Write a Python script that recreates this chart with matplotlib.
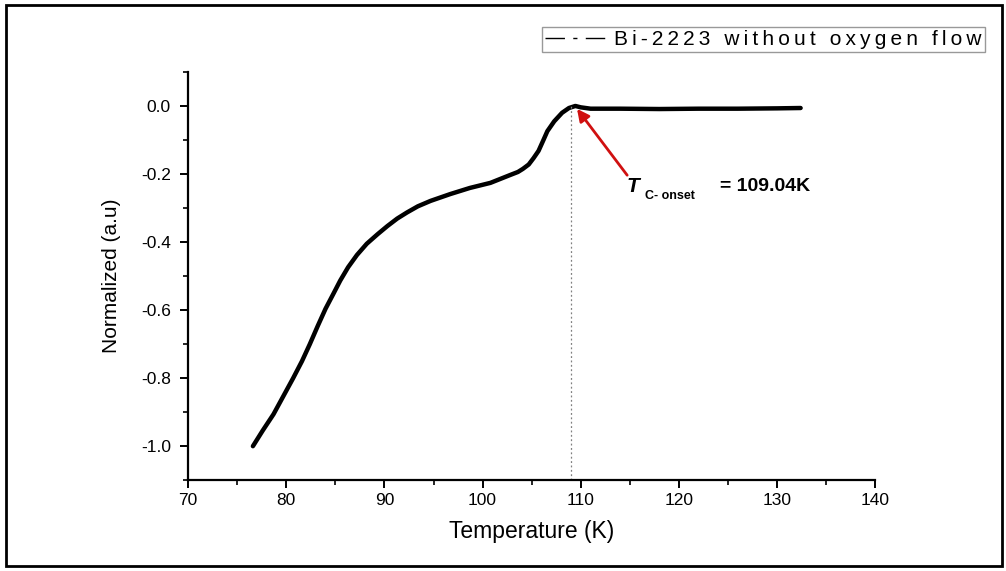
import matplotlib.pyplot as plt
from matplotlib.ticker import MultipleLocator
from matplotlib.lines import Line2D
from matplotlib.patches import Rectangle

plt.rcParams['font.family'] = ['Liberation Sans', 'DejaVu Sans']

# curve
temp = [76.6, 77.6, 78.7, 79.7, 80.7, 81.6, 82.4, 83.2, 84.0, 84.8, 85.5, 86.3,
        87.2, 88.2, 89.3, 90.3, 91.3, 92.3, 93.4, 94.7, 96.7, 98.7, 100.8, 102.8,
        103.6, 104.1, 104.7, 105.2, 105.7, 106.2, 106.6, 107.3, 108.1, 108.8,
        109.45, 110.0, 111.0, 114.0, 118.0, 122.0, 126.0, 130.0, 132.4]
norm = [-1.0, -0.954, -0.906, -0.853, -0.80, -0.75, -0.70, -0.647, -0.596,
        -0.552, -0.513, -0.474, -0.438, -0.405, -0.377, -0.353, -0.331, -0.313,
        -0.295, -0.279, -0.259, -0.241, -0.226, -0.203, -0.194, -0.185, -0.172,
        -0.153, -0.132, -0.10, -0.074, -0.045, -0.02, -0.006, 0.0, -0.004,
        -0.008, -0.008, -0.009, -0.008, -0.008, -0.007, -0.006]

tc_onset = 109.04
series_label = "Bi-2223 without oxygen flow"

fig = plt.figure(figsize=(10.06, 5.71), dpi=100)
ax = fig.add_axes([0.187, 0.159, 0.683, 0.715])

ax.plot(temp, norm, color='black', lw=3.2, solid_capstyle='round',
        solid_joinstyle='round')
ax.plot([tc_onset, tc_onset], [-1.1, 0.0], color='gray', lw=0.9, ls=(0, (1.5, 2)))

ax.set_xlim(70, 140)
ax.set_ylim(-1.1, 0.1)
ax.xaxis.set_major_locator(MultipleLocator(10))
ax.xaxis.set_minor_locator(MultipleLocator(5))
ax.yaxis.set_minor_locator(MultipleLocator(0.1))
ax.set_yticks([-1.0, -0.8, -0.6, -0.4, -0.2, 0.0])
ax.set_yticklabels(['-1.0', '-0.8', '-0.6', '-0.4', '-0.2', '0.0'])

for s in ['top', 'right']:
    ax.spines[s].set_visible(False)
for s in ['left', 'bottom']:
    ax.spines[s].set_linewidth(1.6)
ax.tick_params(which='major', length=6, width=1.4, labelsize=12.5, direction='out')
ax.tick_params(axis='y', which='major', pad=6.5)
ax.tick_params(which='minor', length=3.5, width=1.2, direction='out')

ax.set_xlabel("Temperature (K)", fontsize=16.5, labelpad=8)
ax.set_ylabel("Normalized (a.u)", fontsize=15, labelpad=14)

ax.annotate("", xy=(109.45, -0.002), xytext=(114.9, -0.21),
            arrowprops=dict(arrowstyle='-|>', color='#d01010', lw=2,
                            mutation_scale=18))
ax.text(114.7, -0.238, "T", fontsize=15, style='italic', fontweight='bold',
        va='center', ha='left')
ax.text(116.5, -0.265, "C- onset", fontsize=9, fontweight='bold',
        va='center', ha='left')
ax.text(124.2, -0.238, "= 109.04K", fontsize=14, fontweight='bold',
        va='center', ha='left')

handle = Line2D([], [], color='black', lw=1.0, ls=(0, (14, 6, 3, 6)))
leg = fig.legend([handle], ['\u2009'.join(series_label)], loc='upper right',
                 bbox_to_anchor=(0.979, 0.953), fontsize=15, frameon=True,
                 fancybox=False, edgecolor='gray', handlelength=2.9,
                 borderpad=0.15, handletextpad=0.4, borderaxespad=0)
leg.get_frame().set_linewidth(1.0)

fig.patches.append(Rectangle((0.006, 0.008), 0.99, 0.983, transform=fig.transFigure,
                             fill=False, edgecolor='black', lw=2))

fig.savefig("out.png", dpi=100)
